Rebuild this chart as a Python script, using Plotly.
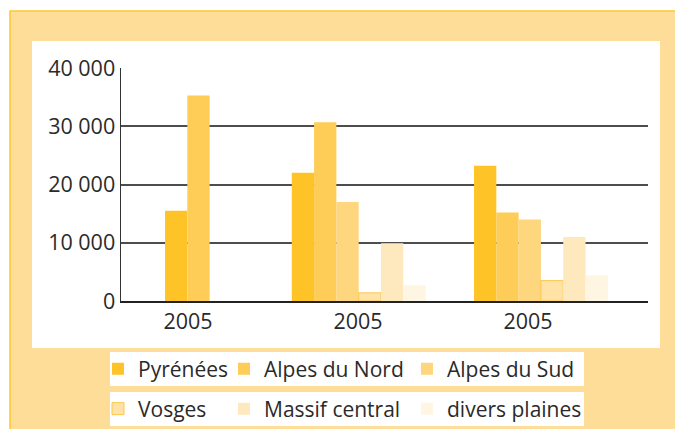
import plotly.graph_objects as go

# ---------------- data ----------------
years = ["2005", "2005", "2005"]
series_names = ["Pyrénées", "Alpes du Nord", "Alpes du Sud",
                "Vosges", "Massif central", "divers plaines"]
pyrenees = [15500, 22000, 23200]
alpes_nord = [35300, 30700, 15200]
alpes_sud = [None, 17000, 14000]
vosges = [None, 1400, 3500]
massif_central = [None, 9900, 11000]
divers_plaines = [None, 2700, 4400]
y_tick_values = [0, 10000, 20000, 30000, 40000]
y_tick_labels = ["0", "10 000", "20 000", "30 000", "40 000"]

series_values = [pyrenees, alpes_nord, alpes_sud, vosges, massif_central, divers_plaines]

# ---------------- styles / layout ----------------
W, H = 675, 429
PX_L, PX_R, PX_T, PX_B = 121, 648, 68, 301          # plot area in pixels
CAT_PX = 170.0                                       # pixels per category
FIRST_CAT_PX = 188.0
BAR_PX = 22.3
bar_w = BAR_PX / CAT_PX
group_start = [-1.03, -2.97, -2.42]                  # first slot of each group, in bar widths

colors = ["#FEC427", "#FECD58", "#FED67D", "#FEE2A6", "#FEE9BF", "#FEF5E3"]
line_colors = [None, None, None, "#FDC64A", None, None]
legend_ids = ["legend", "legend", "legend", "legend2", "legend2", "legend2"]
legend_widths = [81, 138, 140, 81, 138, 140]

FONT = "Open Sans, Noto Sans, sans-serif"
TEXT = "#2b2a2a"
TICK_SIZE = 21.5
LEGEND_SIZE = 21

x_pos = list(range(len(years)))

fig = go.Figure()
for i, (name, vals) in enumerate(zip(series_names, series_values)):
    offsets = [(group_start[g] + i) * bar_w for g in range(len(years))]
    lc = line_colors[i]
    fig.add_trace(go.Bar(
        x=x_pos, y=vals, name=name,
        width=bar_w, offset=offsets,
        marker=dict(color=colors[i],
                    line=dict(color=lc if lc else colors[i], width=1 if lc else 0)),
        legend=legend_ids[i], legendwidth=legend_widths[i],
        hoverinfo="skip",
    ))


def px_x(px):
    return (px - PX_L) / (PX_R - PX_L)


def px_y(py):
    return (PX_B - py) / (PX_B - PX_T)


shapes = [
    # orange frame
    dict(type="rect", xref="paper", yref="paper", layer="below",
         x0=px_x(10), x1=px_x(690), y0=px_y(11), y1=px_y(445),
         fillcolor="#FDDD97", line=dict(color="#FFC62E", width=1.5)),
    # white chart panel
    dict(type="rect", xref="paper", yref="paper", layer="below",
         x0=px_x(32), x1=px_x(660), y0=px_y(41), y1=px_y(348),
         fillcolor="white", line=dict(width=0)),
    # legend boxes
    dict(type="rect", xref="paper", yref="paper", layer="below",
         x0=px_x(110), x1=px_x(584), y0=px_y(352), y1=px_y(386),
         fillcolor="white", line=dict(width=0)),
    dict(type="rect", xref="paper", yref="paper", layer="below",
         x0=px_x(110), x1=px_x(584), y0=px_y(392), y1=px_y(426),
         fillcolor="white", line=dict(width=0)),
]

legend_common = dict(
    orientation="h", xref="container", yref="container",
    x=98 / W, xanchor="left", yanchor="middle",
    bgcolor="rgba(0,0,0,0)", borderwidth=0,
    font=dict(family=FONT, size=LEGEND_SIZE, color=TEXT),
    traceorder="normal",
)

fig.update_layout(
    width=W, height=H,
    margin=dict(l=PX_L, r=W - PX_R, t=PX_T, b=H - PX_B, pad=0),
    paper_bgcolor="white", plot_bgcolor="rgba(0,0,0,0)",
    barmode="overlay",
    font=dict(family=FONT, size=LEGEND_SIZE, color=TEXT),
    shapes=shapes,
    legend=dict(legend_common, y=1 - 369 / H),
    legend2=dict(legend_common, y=1 - 409 / H),
    xaxis=dict(
        range=[-(FIRST_CAT_PX - PX_L) / CAT_PX, (PX_R - FIRST_CAT_PX) / CAT_PX],
        tickmode="array", tickvals=x_pos, ticktext=years,
        showgrid=False, zeroline=False,
        showline=True, linecolor="#222222", linewidth=2,
        ticks="", tickfont=dict(size=TICK_SIZE, color=TEXT, family=FONT),
        fixedrange=True,
    ),
    yaxis=dict(
        range=[0, 40000],
        tickmode="array", tickvals=y_tick_values, ticktext=y_tick_labels,
        showgrid=True, gridcolor="#4d4d4d", gridwidth=2,
        zeroline=False,
        showline=True, linecolor="#333333", linewidth=1.5,
        ticks="", tickfont=dict(size=TICK_SIZE, color=TEXT, family=FONT),
        fixedrange=True,
    ),
)

fig.write_html(
    "out.html",
    config={"displayModeBar": False, "staticPlot": True},
    post_script="document.body.style.margin='0';document.body.style.overflow='hidden';",
)
